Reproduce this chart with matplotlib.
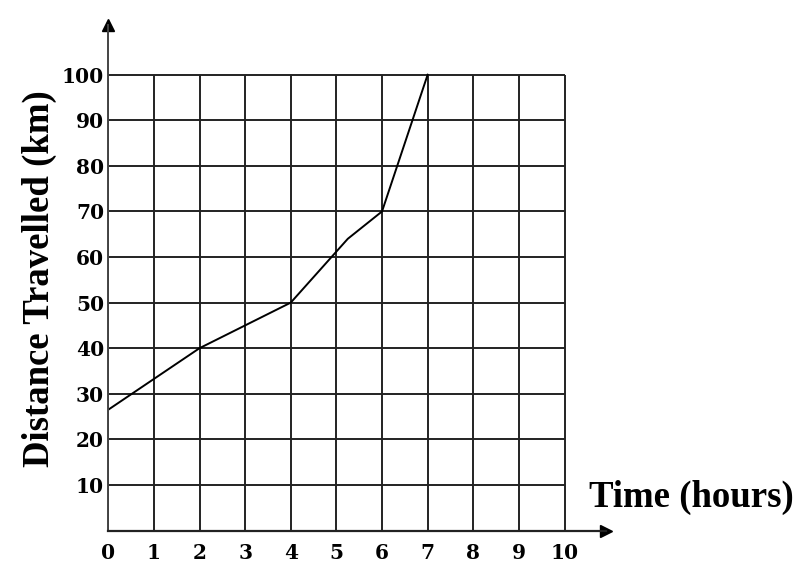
import matplotlib
matplotlib.use("Agg")
import matplotlib.pyplot as plt

# distance travelled vs time
hours = [0, 2, 4, 5.25, 6, 7]
distance = [26.5, 40, 50, 64, 70, 100]

x_ticks = [0, 1, 2, 3, 4, 5, 6, 7, 8, 9, 10]
y_ticks = [10, 20, 30, 40, 50, 60, 70, 80, 90, 100]

fig = plt.figure(figsize=(7.99, 5.86), dpi=100)
ax = fig.add_axes([0.1355, 0.0947, 0.623, 0.8626])

# grid box from 0..10 and 0..100
ax.vlines(x_ticks, 0, 100, colors="#222222", lw=1.4)
ax.hlines(y_ticks, 0, 10, colors="#222222", lw=1.4)

ax.plot(hours, distance, color="black", lw=1.4)

ax.set_xlim(0, 10.91)
ax.set_ylim(0, 110.9)
for s in ["top", "right"]:
    ax.spines[s].set_visible(False)
ax.spines["left"].set_color("#444444")
ax.spines["bottom"].set_color("#222222")
ax.spines["left"].set_linewidth(1.4)
ax.spines["bottom"].set_linewidth(1.6)

# arrow heads at the axis ends
ax.plot(1, 0, ">", color="black", ms=9, transform=ax.get_yaxis_transform(), clip_on=False)
ax.plot(0, 1, "^", color="black", ms=9, transform=ax.get_xaxis_transform(), clip_on=False)

tick_font = dict(family="DejaVu Serif", weight="bold", size=14.5)
ax.set_xticks(x_ticks)
ax.set_xticklabels([str(v) for v in x_ticks], fontdict=tick_font)
ax.set_yticks(y_ticks)
ax.set_yticklabels([str(v) for v in y_ticks], fontdict=tick_font)
ax.tick_params(axis="x", length=0, pad=9)
ax.tick_params(axis="y", length=0, pad=3)

label_font = dict(family="Liberation Serif", weight="bold", size=26.5)
fig.text(39 / 799, 1 - 279 / 586, "Distance Travelled (km)", rotation=90,
         ha="center", va="center", fontdict=label_font)
fig.text(589 / 799, 1 - 497 / 586, "Time (hours)", ha="left", va="center",
         fontdict=label_font)

fig.savefig("out.png", dpi=100)
